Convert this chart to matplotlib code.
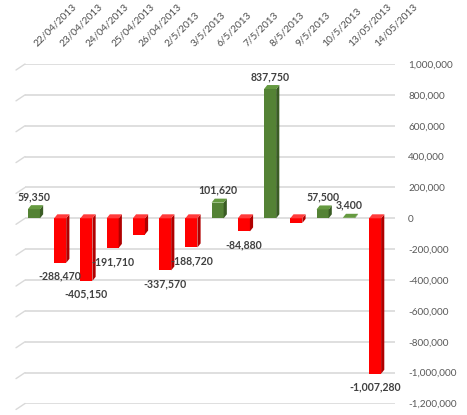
import matplotlib
matplotlib.use("Agg")
import matplotlib.pyplot as plt
from matplotlib.patches import Polygon
from matplotlib.ticker import FuncFormatter

dates = ['22/04/2013', '23/04/2013', '24/04/2013', '25/04/2013', '26/04/2013',
         '2/5/2013', '3/5/2013', '6/5/2013', '7/5/2013', '8/5/2013',
         '9/5/2013', '10/5/2013', '13/05/2013', '14/05/2013']
values = [59350, -288470, -405150, -191710, -105000, -337570, -188720,
          101620, -84880, 837750, -30000, 57500, 3400, -1007280]
show_label = [True, True, True, True, False, True, True, True, True, True,
              False, True, True, True]
yticks = [-1200000, -1000000, -800000, -600000, -400000, -200000, 0,
          200000, 400000, 600000, 800000, 1000000]

plt.rcParams['font.family'] = ['Lato', 'DejaVu Sans']

W, H = 467, 415
fig = plt.figure(figsize=(W / 100, H / 100), dpi=100)
ax = fig.add_axes([25 / W, 11.5 / H, 370 / W, 339.5 / H])
ax.set_xlim(-0.34, 13.76)
ax.set_ylim(-1200000, 1000000)
for s in ax.spines.values():
    s.set_visible(False)

grid_c = '#d9d9d9'
for t in yticks:
    ax.axhline(t, color=grid_c, lw=1.2, zorder=0)
    ax.annotate('', xy=(0, t), xycoords=ax.get_yaxis_transform(),
                xytext=(-9, -6), textcoords='offset pixels',
                arrowprops=dict(arrowstyle='-', color=grid_c, lw=1.0,
                                shrinkA=0, shrinkB=0), annotation_clip=False)

ax.set_yticks(yticks)
ax.yaxis.set_major_formatter(FuncFormatter(lambda v, p: f'{int(v):,}'))
ax.yaxis.tick_right()
ax.tick_params(axis='y', length=0, pad=9.5, labelsize=7.2, labelcolor='#595959')
ax.set_xticks([])

# 3D look parameters
w = 0.46
px_x = 370 / (13.76 + 0.34)
px_y = 339.5 / 2200000
dx = 3.2 / px_x
dy = 4.0 / px_y

for i, v in enumerate(values):
    pos = v >= 0
    front = '#548235' if pos else '#ff0000'
    side = '#3a5c24' if pos else '#b00000'
    topc = '#659a40' if pos else '#ff3b3b'
    ax.bar(i, v, width=w, color=front, zorder=3, edgecolor='none')
    top = max(v, 0)
    bot = min(v, 0)
    xl, xr = i - w / 2, i + w / 2
    ax.add_patch(Polygon([(xr, bot), (xr + dx, bot + dy), (xr + dx, top + dy), (xr, top)],
                         closed=True, facecolor=side, edgecolor='none', zorder=3))
    ax.add_patch(Polygon([(xl, top), (xr, top), (xr + dx, top + dy), (xl + dx, top + dy)],
                         closed=True, facecolor=topc, edgecolor='none', zorder=3))
    if show_label[i]:
        if pos:
            ax.annotate(f'{v:,}', xy=(i, v), xytext=(0, 7), textcoords='offset pixels',
                        ha='center', va='bottom', fontsize=7.6, fontweight='bold',
                        color='#404040', zorder=5)
        else:
            ax.annotate(f'{v:,}', xy=(i, v), xytext=(0, -8), textcoords='offset pixels',
                        ha='center', va='top', fontsize=7.6, fontweight='bold',
                        color='#404040', zorder=5)

for i, d in enumerate(dates):
    ax.annotate(d, xy=(i, 1), xycoords=ax.get_xaxis_transform(),
                xytext=(3, 17), textcoords='offset pixels', rotation=45,
                ha='left', va='baseline', rotation_mode='anchor', fontsize=7.3,
                color='#4d4d4d', annotation_clip=False)

fig.savefig('out.png', dpi=100)
